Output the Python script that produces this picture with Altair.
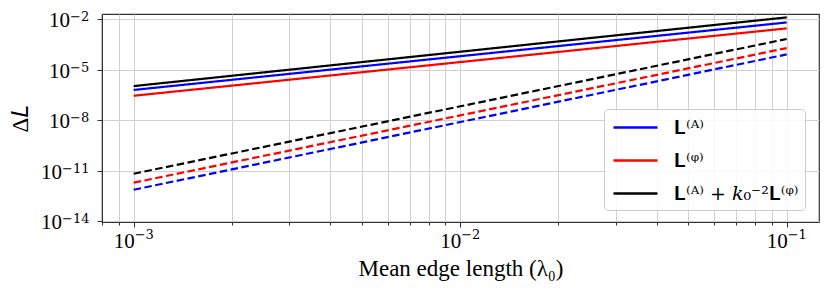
import altair as alt
import pandas as pd

# ---- data ----
edge_length = [1e-3, 1e-1]
series_names = ["𝐋⁽ᴬ⁾", "𝐋⁽ᵠ⁾", "𝐋⁽ᴬ⁾ + 𝑘₀⁻²𝐋⁽ᵠ⁾"]
solid_A = [6.2e-7, 6.3e-3]
solid_phi = [2.8e-7, 2.8e-3]
solid_total = [1.05e-6, 1.26e-2]
dashed_A = [7.4e-13, 8.0e-5]
dashed_phi = [1.94e-12, 1.9e-4]
dashed_total = [6.6e-12, 6.6e-4]

x_major = [1e-3, 1e-2, 1e-1]
x_major_exp = ["−3", "−2", "−1"]
x_minor = [8e-4, 9e-4,
           2e-3, 3e-3, 4e-3, 5e-3, 6e-3, 7e-3, 8e-3, 9e-3,
           2e-2, 3e-2, 4e-2, 5e-2, 6e-2, 7e-2, 8e-2, 9e-2]
y_major = [1e-14, 1e-11, 1e-8, 1e-5, 1e-2]
y_major_exp = ["−14", "−11", "−8", "−5", "−2"]

rows = []
for name, kind, vals in [
    (series_names[0], "solid", solid_A),
    (series_names[1], "solid", solid_phi),
    (series_names[2], "solid", solid_total),
    (series_names[0], "dashed", dashed_A),
    (series_names[1], "dashed", dashed_phi),
    (series_names[2], "dashed", dashed_total),
]:
    for xv, yv in zip(edge_length, vals):
        rows.append({"x": xv, "y": yv, "series": name, "kind": kind, "grp": name + kind})
df = pd.DataFrame(rows)
xlab = pd.DataFrame({"v": x_major, "exp": x_major_exp})
ylab = pd.DataFrame({"v": y_major, "exp": y_major_exp})

FONT = "Liberation Serif"
EXPFONT = "DejaVu Serif"
W, H = 717, 208
x_all = sorted(x_major + x_minor)
x_scale = alt.Scale(type="log", domain=[8.0e-4, 1.256e-1], nice=False)
y_scale = alt.Scale(type="log", domain=[9e-15, 2e-2], nice=False)

lines = alt.Chart(df).mark_line(strokeWidth=2.2, clip=True).encode(
    x=alt.X("x:Q", scale=x_scale,
            axis=alt.Axis(values=x_all, labels=False,
                          title="Mean edge length (λ₀)",
                          tickSize={"condition": {"test": "indexof(%r, datum.value) >= 0" % x_major,
                                                  "value": 5}, "value": 3},
                          titlePadding=30)),
    y=alt.Y("y:Q", scale=y_scale,
            axis=alt.Axis(values=y_major, labels=False, title="Δ𝐿",
                          tickSize=5, titlePadding=64)),
    color=alt.Color("series:N",
                    scale=alt.Scale(domain=series_names, range=["#0000ff", "#ff0000", "#000000"]),
                    legend=alt.Legend(title=None, orient="none", legendX=502, legendY=95,
                                      symbolType="M-2,0H2", symbolSize=484, symbolStrokeWidth=2.5,
                                      symbolOffset=13,
                                      labelFont="DejaVu Serif", labelFontSize=19, labelOffset=26,
                                      padding=6, rowPadding=10, strokeColor="#cccccc",
                                      fillColor="rgba(255,255,255,0.85)", cornerRadius=4,
                                      labelLimit=300)),
    strokeDash=alt.StrokeDash("kind:N",
                              scale=alt.Scale(domain=["solid", "dashed"], range=[[1, 0], [7.5, 3.5]]),
                              legend=None),
    detail="grp:N",
)

# x tick labels: "10" plus superscript exponent
x_base = alt.Chart(xlab).mark_text(align="right", baseline="alphabetic", dx=1,
                                   font=FONT, fontSize=21, color="black").encode(
    x=alt.X("v:Q", scale=x_scale), y=alt.value(H + 26), text=alt.value("10"))
x_exp = alt.Chart(xlab).mark_text(align="left", baseline="alphabetic", dx=1,
                                  font=EXPFONT, fontSize=13, color="black").encode(
    x=alt.X("v:Q", scale=x_scale), y=alt.value(H + 17), text="exp:N")

# y tick labels (one- and two-digit exponents)
def ylabels(test, xpos):
    base = alt.Chart(ylab).transform_filter(test).mark_text(
        align="right", baseline="alphabetic", dy=8, font=FONT, fontSize=21, color="black").encode(
        y=alt.Y("v:Q", scale=y_scale), x=alt.value(xpos), text=alt.value("10"))
    exp = alt.Chart(ylab).transform_filter(test).mark_text(
        align="left", baseline="alphabetic", dy=2, font=EXPFONT, fontSize=13, color="black").encode(
        y=alt.Y("v:Q", scale=y_scale), x=alt.value(xpos), text="exp:N")
    return base + exp

y1 = ylabels("length(datum.exp) == 2", -32)
y2 = ylabels("length(datum.exp) == 3", -40)

chart = alt.layer(lines, x_base, x_exp, y1, y2).properties(
    width=W, height=H,
    autosize=alt.AutoSizeParams(type="none"),
    padding={"left": 94, "top": 6, "right": 3, "bottom": 70},
).configure_view(
    stroke="#333333", strokeWidth=1.2
).configure_axis(
    grid=True, gridColor="#d0d0d0", gridWidth=1,
    domainColor="#333333", tickColor="#333333",
    titleFont=FONT, titleFontSize=23, titleFontWeight="normal", titleColor="#000000",
)

chart.save("out.html", embed_options={"renderer": "svg", "actions": False})
